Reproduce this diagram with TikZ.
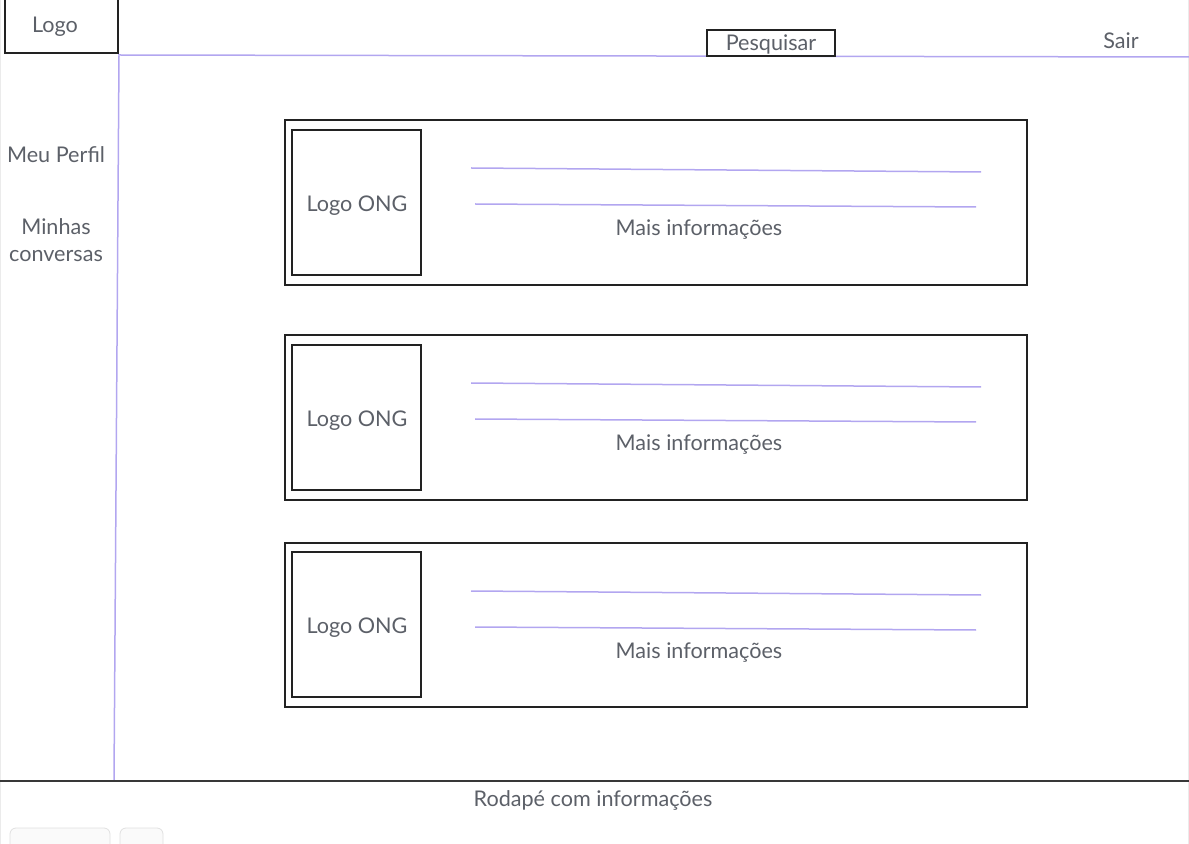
\documentclass[tikz,border=0pt]{standalone}
\usepackage{fontspec}
\setmainfont{Lato}
\usepackage{tikz}
\usetikzlibrary{calc}

\definecolor{lilac}{RGB}{178,166,240}
\definecolor{inkgrey}{RGB}{92,96,104}
\definecolor{framegrey}{RGB}{34,34,34}

\begin{document}
\begin{tikzpicture}[x=0.5pt, y=-0.5pt,
		lbl/.style={text=inkgrey, font=\fontsize{10.8}{12.8}\selectfont, inner sep=0pt},
		box/.style={draw=framegrey, line width=0.75pt},
		guide/.style={draw=lilac, line width=0.75pt}]
			\useasboundingbox (0, 0) rectangle (1189, 844);
			\draw[draw=black!8, line width=0.5pt] (0.5, 0) -- (0.5, 844);
			\draw[draw=black!8, line width=0.5pt] (1188.5, 0) -- (1188.5, 844);
			
			% header
			\coordinate (headleft) at (118, 55);
			\coordinate (headright) at (1189, 57);
			\draw[guide] (headleft) -- (headright);
			\draw[box, line width=1pt] (5, -2) rectangle (118, 53);
			\node [lbl] (Logolabel) at (55, 27) {Logo};
			\draw[box, line width=1pt] (707, 30) rectangle (835, 56);
			\node [lbl] (Searchlabel) at (771, 44) {Pesquisar};
			\node [lbl] (Exitlabel) at (1121, 41) {Sair};
			
			% side menu
			\coordinate (sidetop) at (119, 56);
			\coordinate (sidebottom) at (114, 780);
			\draw[guide] (sidetop) -- (sidebottom);
			\node [lbl] (Profilelabel) at (56, 155) {Meu Perfil};
			\node [lbl, align=center] (Chatlabel) at (56, 240) {Minhas\\[1pt]conversas};
			
			% card 1
			\draw[box] (285, 120) rectangle (1027, 285);
			\draw[box] (292, 130) rectangle (421, 275);
			\node [lbl] (Onglabela) at (357, 206) {Logo ONG};
			\draw[guide] (471, 168) -- (981, 172);
			\draw[guide] (475, 204) -- (976, 207);
			\node [lbl] (Infolabela) at (699, 230) {Mais informações};
			
			% card 2
			\draw[box] (285, 335) rectangle (1027, 500);
			\draw[box] (292, 345) rectangle (421, 490);
			\node [lbl] (Onglabelb) at (357, 421) {Logo ONG};
			\draw[guide] (471, 383) -- (981, 387);
			\draw[guide] (475, 419) -- (976, 422);
			\node [lbl] (Infolabelb) at (699, 445) {Mais informações};
			
			% card 3
			\draw[box] (285, 543) rectangle (1027, 707);
			\draw[box] (292, 552) rectangle (421, 697);
			\node [lbl] (Onglabelc) at (357, 628) {Logo ONG};
			\draw[guide] (471, 591) -- (981, 595);
			\draw[guide] (475, 627) -- (976, 630);
			\node [lbl] (Infolabelc) at (699, 653) {Mais informações};
			
			% footer
			\coordinate (footleft) at (0, 781);
			\coordinate (footright) at (1189, 781);
			\draw[draw=framegrey!90, line width=0.7pt] (footleft) -- (footright);
			\node [lbl] (Footlabel) at (593, 800) {Rodapé com informações};
			\draw[draw=black!12, fill=black!2, rounded corners=3pt] (10, 860) -- (10, 828) -- (110, 828) -- (110, 860);
			\draw[draw=black!12, fill=black!2, rounded corners=3pt] (120, 860) -- (120, 828) -- (163, 828) -- (163, 860);
		\end{tikzpicture}
\end{document}
